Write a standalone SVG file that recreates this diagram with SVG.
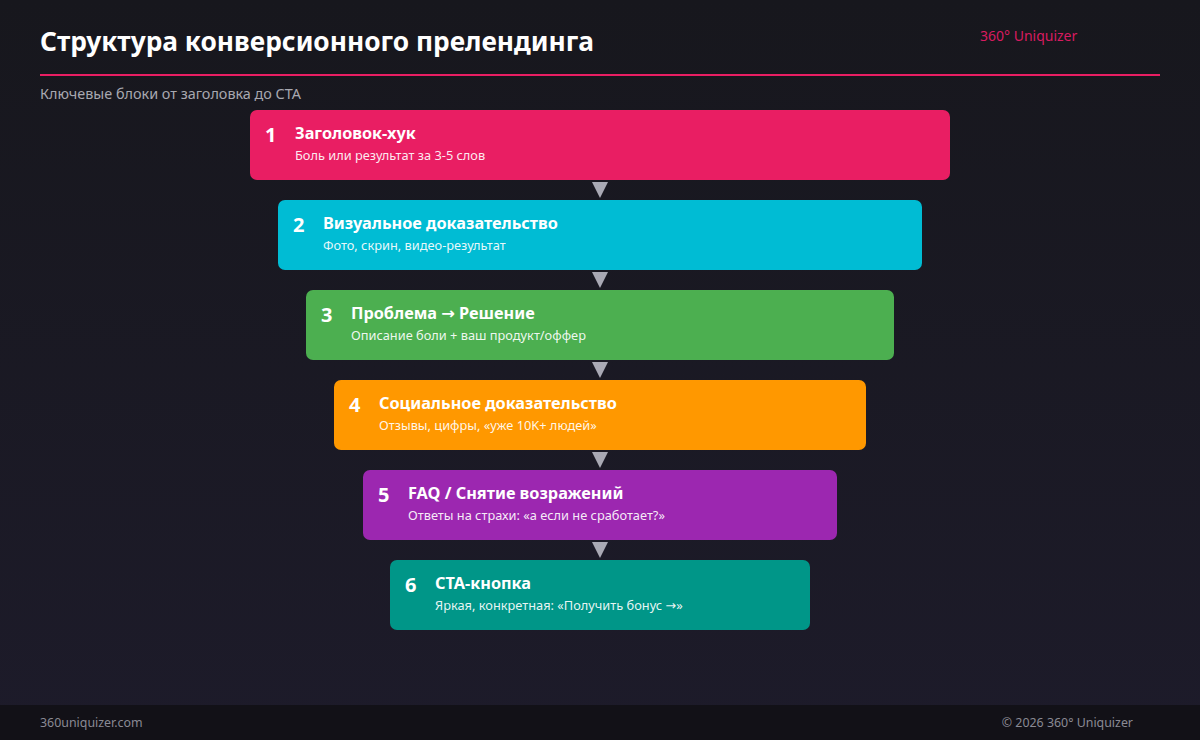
<svg xmlns="http://www.w3.org/2000/svg" width="1200" height="740" viewBox="0 0 1200 740">
<defs>
<linearGradient id="bg" x1="0" y1="0" x2="0" y2="1">
<stop offset="0" stop-color="#17171d"/>
<stop offset="1" stop-color="#1d1b2a"/>
</linearGradient>
<style>
text{font-family:"Noto Sans","Open Sans","DejaVu Sans",sans-serif}
.num{font-size:20px;font-weight:700;fill:#fff}
.ttl{font-size:16.3px;font-weight:700;fill:#fff}
.sub{font-size:12.8px;fill:#fff;fill-opacity:0.92}
.arr{fill:#a9a9b4}
.foot{font-size:12.4px;fill:#8a8a94}
</style>
</defs>
<rect x="0" y="0" width="1200" height="740" fill="url(#bg)"/>
<text x="40" y="51" font-size="26.3" font-weight="700" fill="#fff">Структура конверсионного прелендинга</text>
<text x="980" y="41" font-size="14" fill="#d81b60">360° Uniquizer</text>
<rect x="40" y="74" width="1120" height="2" fill="#e91e63"/>
<text x="40" y="99" font-size="14.4" fill="#a8a8b0">Ключевые блоки от заголовка до СТА</text>

<g id="connectors">
<polygon class="arr" points="592,182 608,182 600,198"/>
<polygon class="arr" points="592,272 608,272 600,288"/>
<polygon class="arr" points="592,362 608,362 600,378"/>
<polygon class="arr" points="592,452 608,452 600,468"/>
<polygon class="arr" points="592,542 608,542 600,558"/>
</g>

<g id="node1">
<rect x="250" y="110" width="700" height="70" rx="7" fill="#e91e63"/>
<text class="num" x="265" y="142">1</text>
<text class="ttl" x="295" y="139">Заголовок-хук</text>
<text class="sub" x="295" y="160">Боль или результат за 3-5 слов</text>
</g>
<g id="node2">
<rect x="278" y="200" width="644" height="70" rx="7" fill="#00bcd4"/>
<text class="num" x="293" y="232">2</text>
<text class="ttl" x="323" y="229">Визуальное доказательство</text>
<text class="sub" x="323" y="250">Фото, скрин, видео-результат</text>
</g>
<g id="node3">
<rect x="306" y="290" width="588" height="70" rx="7" fill="#4caf50"/>
<text class="num" x="321" y="322">3</text>
<text class="ttl" x="351" y="319">Проблема → Решение</text>
<text class="sub" x="351" y="340">Описание боли + ваш продукт/оффер</text>
</g>
<g id="node4">
<rect x="334" y="380" width="532" height="70" rx="7" fill="#ff9800"/>
<text class="num" x="349" y="412">4</text>
<text class="ttl" x="379" y="409">Социальное доказательство</text>
<text class="sub" x="379" y="430">Отзывы, цифры, «уже 10K+ людей»</text>
</g>
<g id="node5">
<rect x="363" y="470" width="474" height="70" rx="7" fill="#9c27b0"/>
<text class="num" x="378" y="502">5</text>
<text class="ttl" x="408" y="499">FAQ / Снятие возражений</text>
<text class="sub" x="408" y="520">Ответы на страхи: «а если не сработает?»</text>
</g>
<g id="node6">
<rect x="390" y="560" width="420" height="70" rx="7" fill="#009688"/>
<text class="num" x="405" y="592">6</text>
<text class="ttl" x="435" y="589">CTA-кнопка</text>
<text class="sub" x="435" y="610">Яркая, конкретная: «Получить бонус →»</text>
</g>

<rect x="0" y="705" width="1200" height="35" fill="#121117"/>
<text class="foot" x="40" y="727">360uniquizer.com</text>
<text class="foot" x="1133" y="727" text-anchor="end">© 2026 360° Uniquizer</text>
</svg>
